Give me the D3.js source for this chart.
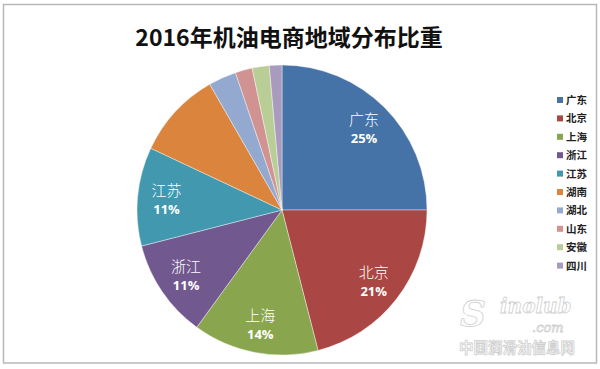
<html>
<head>
<meta charset="utf-8">
<title>2016年机油电商地域分布比重</title>
<style>
  body { margin: 0; background: #fff; }
</style>
<script src="https://cdn.jsdelivr.net/npm/d3@7/dist/d3.min.js"></script>
</head>
<body>
<svg width="600" height="369"></svg>
<script>
var regions = ["广东", "北京", "上海", "浙江", "江苏", "湖南", "湖北", "山东", "安徽", "四川"];
var shares = [25, 21, 14, 11, 11, 9.7, 3.1, 1.9, 1.9, 1.4];
var palette = ["#4572A7", "#AA4643", "#89A54E", "#71588F", "#4198AF",
               "#DB843D", "#93A9CF", "#D19392", "#B9CD96", "#A99BBD"];
var labelled = ["广东", "北京", "上海", "浙江", "江苏"];

var svg = d3.select("svg"),
    cx = 282, cy = 210, radius = 145;

// frame
svg.append("rect")
    .attr("x", 3.5).attr("y", 4.5)
    .attr("width", 593).attr("height", 358.5)
    .attr("fill", "none")
    .attr("stroke", "#b8b8b8")
    .attr("stroke-width", 1.5);

svg.append("text")
    .text("2016年机油电商地域分布比重")
    .attr("x", 289).attr("y", 46)
    .attr("text-anchor", "middle")
    .style("font", "600 23px 'Noto Sans CJK SC', sans-serif")
    .attr("fill", "#111");

var data = regions.map((r, i) => ({region: r, value: shares[i]}));
var total = d3.sum(shares);

var color = d3.scaleOrdinal().domain(regions).range(palette);

var pie = d3.pie().sort(null).value(d => d.value);
var arc = d3.arc().innerRadius(0).outerRadius(radius);
var labelArc = d3.arc().innerRadius(radius * 0.8).outerRadius(radius * 0.8);

var g = svg.append("g").attr("transform", `translate(${cx},${cy})`);

var slices = g.selectAll("g.slice")
    .data(pie(data))
    .enter()
    .append("g")
    .attr("class", "slice");

slices.append("path")
    .attr("d", arc)
    .attr("fill", d => color(d.data.region))
    .attr("stroke", "#fff")
    .attr("stroke-width", 0.4);

var pct = d3.format(".0%");
var lab = slices.filter(d => labelled.includes(d.data.region))
    .append("g")
    .attr("transform", d => `translate(${labelArc.centroid(d)})`);

lab.append("text")
    .text(d => d.data.region)
    .attr("y", -3)
    .attr("text-anchor", "middle")
    .attr("fill", "#fff")
    .style("font", "300 15px 'Noto Sans CJK SC', serif");

lab.append("text")
    .text(d => pct(d.data.value / total))
    .attr("y", 15)
    .attr("text-anchor", "middle")
    .attr("fill", "#fff")
    .style("font", "bold 13px 'Open Sans', sans-serif");

// legend
var legend = svg.append("g")
    .selectAll("g")
    .data(regions)
    .enter()
    .append("g")
    .attr("transform", (d, i) => `translate(557,${100 + i * 18.4})`);

legend.append("rect")
    .attr("y", -3)
    .attr("width", 6).attr("height", 6)
    .attr("fill", d => color(d));

legend.append("text")
    .text(d => d)
    .attr("x", 9).attr("y", 4)
    .attr("fill", "#222")
    .style("font", "bold 10.5px 'Noto Sans CJK SC', sans-serif");

// watermark
var wm = svg.append("g").attr("fill", "#fff").attr("stroke", "#cfcfcf").attr("stroke-width", 0.8);
wm.append("text").text("S")
    .attr("x", 460).attr("y", 326)
    .style("font", "italic bold 36px 'DejaVu Serif', serif");
wm.append("text").text("inolub")
    .attr("x", 500).attr("y", 313)
    .style("font", "italic bold 20px 'DejaVu Serif', serif");
wm.append("text").text(".com")
    .attr("x", 532).attr("y", 332)
    .style("font", "italic 13px 'DejaVu Serif', serif");
wm.append("text").text("中国润滑油信息网")
    .attr("x", 459).attr("y", 353)
    .style("font", "bold 14.5px 'Noto Sans CJK SC', sans-serif");
</script>
</body>
</html>
